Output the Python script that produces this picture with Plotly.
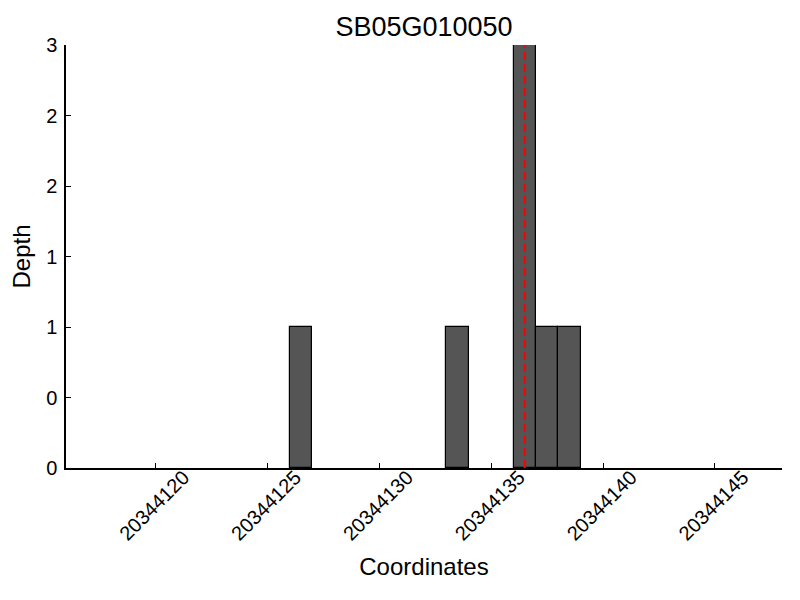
import plotly.graph_objects as go

title_text = "SB05G010050"
positions = [20344126, 20344133, 20344136, 20344137, 20344138]
depths = [1, 1, 3, 1, 1]
marker_position = 20344136.5
x_range = [20344116, 20344148]
x_ticks = [20344120, 20344125, 20344130, 20344135, 20344140, 20344145]
x_tick_labels = [str(v) for v in x_ticks]
y_ticks = [0, 0.5, 1, 1.5, 2, 2.5, 3]
y_tick_labels = ["0", "0", "1", "1", "2", "2", "3"]

FONT = "Liberation Sans, Arial, sans-serif"

fig = go.Figure()
fig.add_trace(go.Bar(
    x=positions, y=depths, width=1, offset=0,
    marker=dict(color="#555555", line=dict(color="black", width=1.2)),
    showlegend=False,
))
fig.add_shape(type="line", xref="x", yref="paper",
              x0=marker_position, x1=marker_position, y0=0, y1=1,
              line=dict(color="red", width=2.2, dash="8px,4px"))

fig.update_layout(
    width=800, height=600,
    margin=dict(l=58, r=26, t=37, b=140, autoexpand=False),
    paper_bgcolor="white", plot_bgcolor="white",
    font=dict(family=FONT, color="black", size=20),
    title=dict(text=title_text, x=0.5, xref="paper", xanchor="center",
               y=1 - 19 / 600, yref="container", yanchor="middle",
               font=dict(size=27, color="black", family=FONT)),
    bargap=0,
)
fig.update_xaxes(
    range=x_range, tickvals=x_ticks, ticktext=x_tick_labels,
    tickangle=-45, ticks="inside", ticklen=5, tickcolor="black",
    showline=True, linecolor="black", linewidth=1.5, mirror=False,
    showgrid=False, zeroline=False, automargin=False,
    tickfont=dict(size=20), ticklabelshift=28, ticklabelstandoff=-12,
    title=dict(text="Coordinates", font=dict(size=24), standoff=15),
)
fig.update_yaxes(
    range=[0, 3], tickvals=y_ticks, ticktext=y_tick_labels,
    ticks="inside", ticklen=5, tickcolor="black",
    showline=True, linecolor="black", linewidth=1.5,
    showgrid=False, zeroline=False, automargin=False,
    tickfont=dict(size=20), ticklabelstandoff=3,
    title=dict(text="Depth", font=dict(size=24), standoff=10),
)

fig.write_html("out.html")
